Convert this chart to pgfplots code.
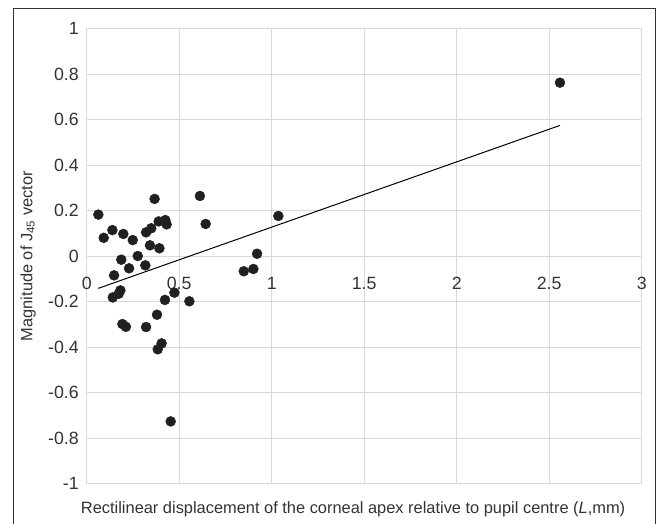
\documentclass[border=0pt]{standalone}
\usepackage{pgfplots}
\pgfplotsset{compat=1.18}
\usepackage{fontspec}
\setmainfont{Liberation Sans}
\definecolor{gridgray}{HTML}{D9D9D9}
\definecolor{txt}{HTML}{333333}
\definecolor{dot}{HTML}{231F20}

\begin{document}
\begin{tikzpicture}
\begin{axis}[
  x=138.75pt, y=170.625pt,
  xmin=0, xmax=3, ymin=-1, ymax=1,
  xtick={0,0.5,1,1.5,2,2.5,3},
  ytick={-1,-0.8,-0.6,-0.4,-0.2,0,0.2,0.4,0.6,0.8,1},
  grid=major,
  major grid style={gridgray, line width=0.75pt},
  axis line style={gridgray, line width=0.75pt},
  major tick length=0pt,
  clip=false,
  /pgf/number format/assume math mode=true,
  ticklabel style={font=\fontsize{13.3}{15}\selectfont, text=txt},
  yticklabel style={inner sep=1pt, xshift=-4.8pt},
  xticklabel style={anchor=center, yshift=150.3pt},
  xlabel={Rectilinear displacement of the corneal apex relative to pupil centre (\textit{L},mm)},
  ylabel={Magnitude of J\textsubscript{45} vector},
  label style={font=\fontsize{12.3}{14}\selectfont, text=txt},
  xlabel style={at={(axis description cs:0.48,-0.056)}, anchor=center},
  ylabel style={at={(axis description cs:-0.1057,0.5)}, anchor=center},
]
\addplot[only marks, mark=*, mark size=3.7pt, color=dot] coordinates {
  (0.063,0.182) (0.092,0.080) (0.139,0.114) (0.198,0.097) (0.249,0.070)
  (0.321,0.104) (0.349,0.122) (0.367,0.251) (0.389,0.152) (0.425,0.158)
  (0.432,0.139) (0.342,0.047) (0.393,0.034) (0.612,0.264) (0.643,0.141)
  (0.187,-0.016) (0.276,0.000) (0.229,-0.054) (0.317,-0.041) (0.148,-0.085)
  (0.182,-0.151) (0.173,-0.166) (0.141,-0.182) (0.474,-0.161) (0.423,-0.193)
  (0.555,-0.199) (0.380,-0.258) (0.193,-0.299) (0.212,-0.311) (0.321,-0.312)
  (0.849,-0.067) (0.901,-0.057) (0.921,0.010) (1.036,0.176)
  (0.405,-0.384) (0.384,-0.410) (0.454,-0.727) (2.558,0.762)
};
\addplot[black, line width=0.75pt] coordinates {(0.063,-0.142) (2.558,0.574)};
\draw[txt, line width=0.75pt] (axis cs:-0.398,-1.3) |- (axis cs:3.0719,1.0901) -- (axis cs:3.0719,-1.3);
\coordinate (bbl) at (axis cs:-0.4686,-1.1736);
\coordinate (btr) at (axis cs:3.0935,1.1253);
\end{axis}
\pgfresetboundingbox
\useasboundingbox (bbl) rectangle (btr);
\end{tikzpicture}
\end{document}
